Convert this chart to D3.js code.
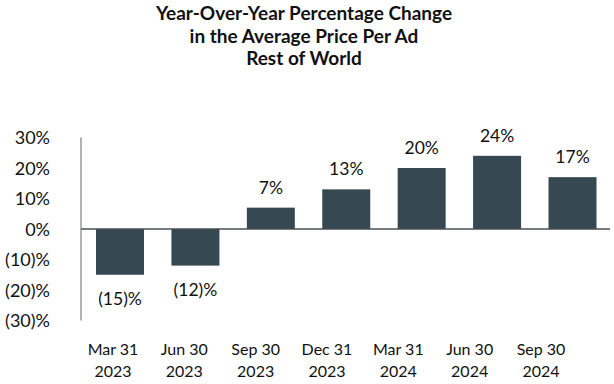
<!DOCTYPE html>
<html><head><meta charset="utf-8">
<script src="https://cdn.jsdelivr.net/npm/d3@7"></script>
<style>body{margin:0;background:#fff}svg{display:block}text{font-family:Lato,"Open Sans",sans-serif;fill:#111}</style>
</head><body>
<svg id="c" width="614" height="384"></svg>
<script>
const titleLines = ["Year-Over-Year Percentage Change", "in the Average Price Per Ad", "Rest of World"];
const categories = [["Mar 31","2023"],["Jun 30","2023"],["Sep 30","2023"],["Dec 31","2023"],["Mar 31","2024"],["Jun 30","2024"],["Sep 30","2024"]];
const values = [-15, -12, 7, 13, 20, 24, 17];
const valueLabels = ["(15)%","(12)%","7%","13%","20%","24%","17%"];
const yTicks = [30, 20, 10, 0, -10, -20, -30];
const yTickLabels = ["30%","20%","10%","0%","(10)%","(20)%","(30)%"];

const svg = d3.select("#c");
const idx = d3.range(values.length);
const y = d3.scaleLinear().domain([-30, 30]).range([320.5, 137.5]);
const x = d3.scalePoint().domain(idx).range([120, 572.5]);
const xl = d3.scalePoint().domain(idx).range([113, 541]);
const barW = 48;

// title
svg.append("g").selectAll("text").data(titleLines).join("text")
  .attr("x", 304).attr("y", (d,i) => 20 + i*22.5)
  .attr("text-anchor", "middle").style("font-weight", "bold").style("font-size", "19px")
  .text(d => d);

// y axis
const yAxis = d3.axisLeft(y).tickValues(yTicks).tickSize(0).tickPadding(0)
  .tickFormat(d => yTickLabels[yTicks.indexOf(d)]);
const ga = svg.append("g").attr("transform", "translate(50,0)").call(yAxis);
ga.select(".domain").remove();
ga.selectAll("text").style("font-size", "18px").attr("fill", "#111").attr("dy", "0.35em");

svg.append("line").attr("x1", 81).attr("x2", 81).attr("y1", y(30)).attr("y2", y(-30))
  .attr("stroke", "#9a9a9a").attr("stroke-width", 1.5);

// bars
svg.append("g").selectAll("rect").data(idx).join("rect")
  .attr("x", i => x(i) - barW/2).attr("width", barW)
  .attr("y", i => y(Math.max(0, values[i])))
  .attr("height", i => Math.abs(y(values[i]) - y(0)))
  .attr("fill", "#364852");

// zero line
svg.append("line").attr("x1", 81).attr("x2", 610).attr("y1", y(0)).attr("y2", y(0))
  .attr("stroke", "#4a4f54").attr("stroke-width", 1.5);

// value labels
svg.append("g").selectAll("text").data(idx).join("text")
  .attr("x", i => x(i)).attr("y", i => values[i] >= 0 ? y(values[i]) - 20 : y(values[i]) + 24)
  .attr("dy", "0.35em").attr("text-anchor", "middle").style("font-size", "17.5px")
  .text(i => valueLabels[i]);

// category labels
const gc = svg.append("g").selectAll("text").data(idx).join("text")
  .attr("text-anchor", "middle").style("font-size", "16px");
gc.selectAll("tspan").data(i => categories[i].map(t => ({t, i}))).join("tspan")
  .attr("x", d => xl(d.i)).attr("y", (d,j) => 355 + j*22).text(d => d.t);
</script>
</body></html>
